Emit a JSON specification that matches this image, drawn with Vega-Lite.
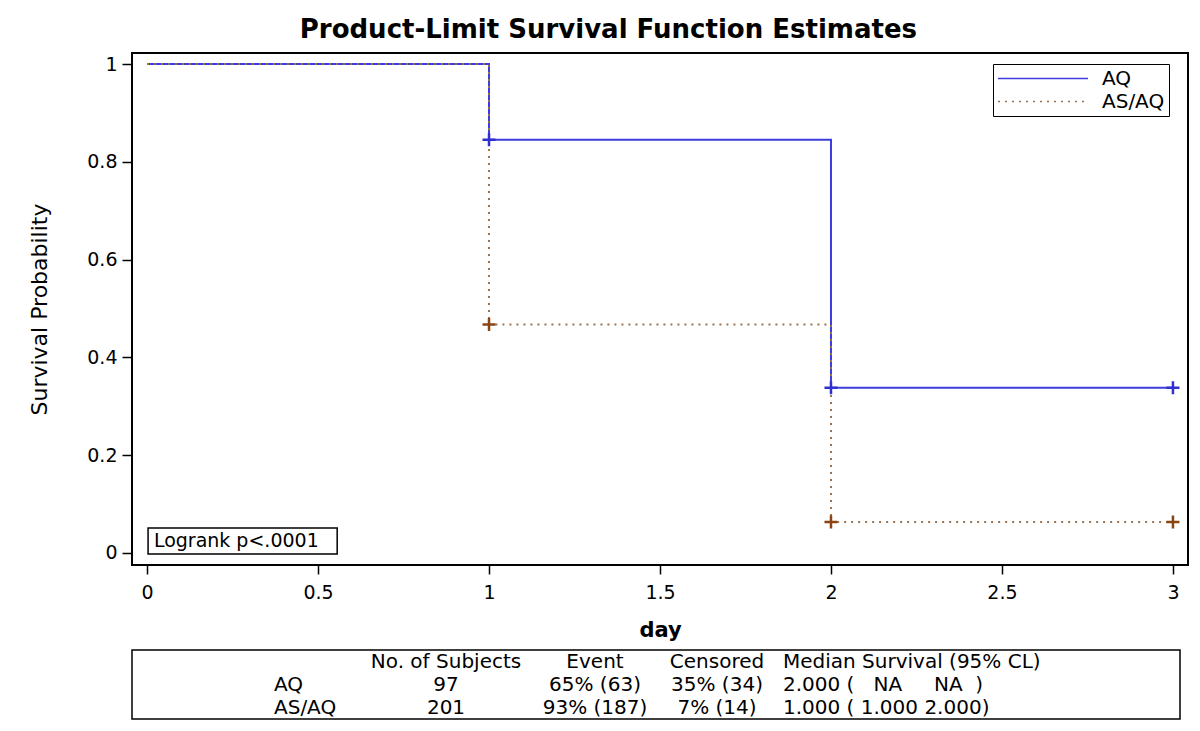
{
  "$schema": "https://vega.github.io/schema/vega-lite/v6.json",
  "background": "white",
  "padding": {"left": 27, "top": 17, "right": 10, "bottom": 5},
  "title": {"text": "Product-Limit Survival Function Estimates", "fontSize": 26, "fontWeight": "bold", "font": "DejaVu Sans", "anchor": "middle", "offset": 9, "color": "black"},
  "config": {
    "font": "DejaVu Sans",
    "view": {"stroke": "black", "strokeWidth": 2},
    "axis": {"domain": false, "grid": false, "tickColor": "black", "tickWidth": 1.5, "labelColor": "black", "titleColor": "black", "labelFont": "DejaVu Sans", "titleFont": "DejaVu Sans"},
    "concat": {"spacing": 8}
  },
  "datasets": {
    "survival": [
      {"group": "AQ", "day": 0, "survival": 1},
      {"group": "AQ", "day": 1, "survival": 0.845},
      {"group": "AQ", "day": 2, "survival": 0.338},
      {"group": "AQ", "day": 3, "survival": 0.338},
      {"group": "AS/AQ", "day": 0, "survival": 1},
      {"group": "AS/AQ", "day": 1, "survival": 0.467},
      {"group": "AS/AQ", "day": 2, "survival": 0.0635},
      {"group": "AS/AQ", "day": 3, "survival": 0.0635}
    ],
    "censored": [
      {"group": "AQ", "day": 1, "survival": 0.845},
      {"group": "AQ", "day": 2, "survival": 0.338},
      {"group": "AQ", "day": 3, "survival": 0.338},
      {"group": "AS/AQ", "day": 1, "survival": 0.467},
      {"group": "AS/AQ", "day": 2, "survival": 0.0635},
      {"group": "AS/AQ", "day": 3, "survival": 0.0635}
    ],
    "annotation": [
      {"label": "Logrank p<.0001"}
    ],
    "table": [
      {"row": "header", "col": "subjects", "text": "No. of Subjects"},
      {"row": "header", "col": "event", "text": "Event"},
      {"row": "header", "col": "censored", "text": "Censored"},
      {"row": "header", "col": "median", "text": "Median Survival (95% CL)"},
      {"row": "AQ", "col": "label", "text": "AQ"},
      {"row": "AQ", "col": "subjects", "text": "97"},
      {"row": "AQ", "col": "event", "text": "65% (63)"},
      {"row": "AQ", "col": "censored", "text": "35% (34)"},
      {"row": "AQ", "col": "median", "text": "2.000 (\u00a0\u00a0\u00a0NA\u00a0\u00a0\u00a0\u00a0\u00a0NA\u00a0\u00a0)"},
      {"row": "AS/AQ", "col": "label", "text": "AS/AQ"},
      {"row": "AS/AQ", "col": "subjects", "text": "201"},
      {"row": "AS/AQ", "col": "event", "text": "93% (187)"},
      {"row": "AS/AQ", "col": "censored", "text": "7% (14)"},
      {"row": "AS/AQ", "col": "median", "text": "1.000 ( 1.000 2.000)"}
    ]
  },
  "vconcat": [
    {
      "width": 1056,
      "height": 512,
      "layer": [
        {
          "data": {"name": "survival"},
          "mark": {"type": "line", "interpolate": "step-after", "strokeWidth": 2},
          "encoding": {
            "x": {"field": "day", "type": "quantitative", "scale": {"domain": [-0.044, 3.044], "nice": false, "zero": false},
                  "axis": {"values": [0, 0.5, 1, 1.5, 2, 2.5, 3], "format": "~g", "title": "day", "labelFontSize": 19, "tickSize": 9, "labelPadding": 9, "titleFontSize": 21, "titleFontWeight": "bold", "titlePadding": 17, "labelFlush": false}},
            "y": {"field": "survival", "type": "quantitative", "scale": {"domain": [-0.0246, 1.0225], "nice": false, "zero": false},
                  "axis": {"values": [0, 0.2, 0.4, 0.6, 0.8, 1], "format": "~g", "title": "Survival Probability", "labelFontSize": 19, "tickSize": 10, "labelPadding": 5, "titleFontSize": 22, "titleFontWeight": "normal", "titlePadding": 35, "labelFlush": false}},
            "color": {"field": "group", "type": "nominal", "scale": {"domain": ["AQ", "AS/AQ"], "range": ["#3d3ddb", "#9a7350"]},
                      "legend": {"title": null, "orient": "none", "legendX": 861, "legendY": 11, "symbolType": "stroke", "symbolSize": 8100, "symbolStrokeWidth": 1.5, "clipHeight": 21, "labelFontSize": 20, "labelFont": "DejaVu Sans", "labelColor": "black", "labelOffset": 13, "padding": 4, "rowPadding": 2, "strokeColor": "black", "fillColor": "white", "labelLimit": 300}},
            "strokeDash": {"field": "group", "type": "nominal", "scale": {"domain": ["AQ", "AS/AQ"], "range": [[1, 0], [2, 5]]},
                      "legend": {"title": null, "orient": "none", "legendX": 861, "legendY": 11, "symbolType": "stroke", "symbolSize": 8100, "symbolStrokeWidth": 1.5, "clipHeight": 21, "labelFontSize": 20, "labelFont": "DejaVu Sans", "labelColor": "black", "labelOffset": 13, "padding": 4, "rowPadding": 2, "strokeColor": "black", "fillColor": "white", "labelLimit": 300}}
          }
        },
        {
          "data": {"name": "censored"},
          "mark": {"type": "point", "shape": "M-1,0H1M0,-1V1", "size": 169, "filled": false, "strokeWidth": 2.5, "opacity": 1},
          "encoding": {
            "x": {"field": "day", "type": "quantitative"},
            "y": {"field": "survival", "type": "quantitative"},
            "stroke": {"field": "group", "type": "nominal", "scale": {"domain": ["AQ", "AS/AQ"], "range": ["#3030d0", "#8b4513"]}, "legend": null}
          }
        },
        {
          "data": {"name": "annotation"},
          "mark": {"type": "rect", "fill": "white", "stroke": "black", "strokeWidth": 1.5},
          "encoding": {
            "x": {"datum": 0.003, "type": "quantitative"},
            "x2": {"datum": 0.556},
            "y": {"datum": -0.002, "type": "quantitative"},
            "y2": {"datum": 0.051}
          }
        },
        {
          "data": {"name": "annotation"},
          "mark": {"type": "text", "align": "left", "baseline": "middle", "fontSize": 19, "font": "DejaVu Sans", "color": "black"},
          "encoding": {
            "x": {"datum": 0.02, "type": "quantitative"},
            "y": {"datum": 0.0246, "type": "quantitative"},
            "text": {"field": "label"}
          }
        }
      ]
    },
    {
      "width": 1048,
      "height": 69,
      "data": {"name": "table"},
      "view": {"stroke": "black", "strokeWidth": 1.5},
      "layer": [
        {
          "transform": [{"filter": "datum.col == 'label'"}],
          "mark": {"type": "text", "align": "left", "baseline": "middle", "fontSize": 20, "color": "black"},
          "encoding": {
            "x": {"field": "col", "type": "nominal", "bandPosition": 0.016, "scale": {"type": "band", "domain": ["label", "subjects", "event", "censored", "median"], "range": [140, 765], "paddingInner": 0, "paddingOuter": 0}, "axis": null},
            "y": {"field": "row", "type": "nominal", "scale": {"type": "point", "domain": ["header", "AQ", "AS/AQ"], "padding": 0.5}, "axis": null},
            "text": {"field": "text"}
          }
        },
        {
          "transform": [{"filter": "datum.col == 'subjects'"}],
          "mark": {"type": "text", "align": "center", "baseline": "middle", "fontSize": 20, "color": "black"},
          "encoding": {
            "x": {"field": "col", "type": "nominal", "bandPosition": 0.392, "axis": null},
            "y": {"field": "row", "type": "nominal", "axis": null},
            "text": {"field": "text"}
          }
        },
        {
          "transform": [{"filter": "datum.col == 'event'"}],
          "mark": {"type": "text", "align": "center", "baseline": "middle", "fontSize": 20, "color": "black"},
          "encoding": {
            "x": {"field": "col", "type": "nominal", "bandPosition": 0.584, "axis": null},
            "y": {"field": "row", "type": "nominal", "axis": null},
            "text": {"field": "text"}
          }
        },
        {
          "transform": [{"filter": "datum.col == 'censored'"}],
          "mark": {"type": "text", "align": "center", "baseline": "middle", "fontSize": 20, "color": "black"},
          "encoding": {
            "x": {"field": "col", "type": "nominal", "bandPosition": 0.56, "axis": null},
            "y": {"field": "row", "type": "nominal", "axis": null},
            "text": {"field": "text"}
          }
        },
        {
          "transform": [{"filter": "datum.col == 'median'"}],
          "mark": {"type": "text", "align": "left", "baseline": "middle", "fontSize": 20, "color": "black"},
          "encoding": {
            "x": {"field": "col", "type": "nominal", "bandPosition": 0.088, "axis": null},
            "y": {"field": "row", "type": "nominal", "axis": null},
            "text": {"field": "text"}
          }
        }
      ]
    }
  ]
}
